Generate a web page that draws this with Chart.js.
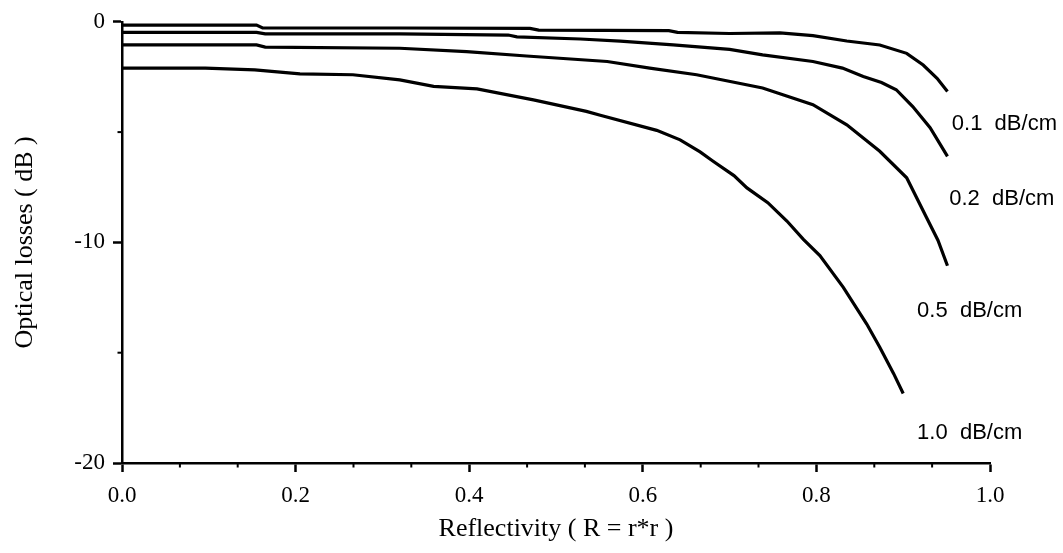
<!DOCTYPE html>
<html>
<head>
<meta charset="utf-8">
<script src="https://cdn.jsdelivr.net/npm/chart.js@4"></script>
<style>
  body { margin: 0; background: #fff; }
</style>
</head>
<body>
<canvas id="chart" width="1063" height="553"></canvas>
<script>
// reflectivity (x) and optical losses in dB (y) for each propagation loss
const r01 = [0, 0.155, 0.162, 0.32, 0.47, 0.48, 0.63, 0.64, 0.70, 0.758, 0.796, 0.835, 0.873, 0.904, 0.923, 0.939, 0.951];
const loss01 = [-0.15, -0.15, -0.28, -0.28, -0.3, -0.38, -0.4, -0.48, -0.53, -0.5, -0.63, -0.87, -1.05, -1.43, -1.96, -2.56, -3.16];

const r02 = [0, 0.155, 0.165, 0.32, 0.445, 0.455, 0.528, 0.574, 0.635, 0.70, 0.738, 0.796, 0.83, 0.854, 0.875, 0.892, 0.911, 0.931, 0.951];
const loss02 = [-0.48, -0.48, -0.55, -0.55, -0.6, -0.68, -0.78, -0.88, -1.05, -1.25, -1.5, -1.8, -2.1, -2.48, -2.75, -3.08, -3.84, -4.8, -6.1];

const r05 = [0, 0.155, 0.165, 0.32, 0.397, 0.466, 0.559, 0.608, 0.662, 0.738, 0.796, 0.835, 0.873, 0.904, 0.927, 0.94, 0.951];
const loss05 = [-1.05, -1.05, -1.15, -1.2, -1.35, -1.55, -1.8, -2.1, -2.4, -3.0, -3.76, -4.67, -5.87, -7.07, -8.88, -9.9, -11.06];

const r10 = [0, 0.096, 0.153, 0.205, 0.266, 0.32, 0.359, 0.409, 0.474, 0.535, 0.551, 0.616, 0.643, 0.666, 0.681, 0.705, 0.72, 0.744, 0.766, 0.785, 0.804, 0.831, 0.858, 0.873, 0.889, 0.90];
const loss10 = [-2.1, -2.1, -2.18, -2.36, -2.4, -2.63, -2.93, -3.04, -3.54, -4.06, -4.24, -4.92, -5.35, -5.9, -6.32, -6.97, -7.53, -8.2, -9.03, -9.86, -10.6, -12.04, -13.7, -14.75, -15.95, -16.85];

// curve labels, placed in data units
const curveLabels = ['0.1  dB/cm', '0.2  dB/cm', '0.5  dB/cm', '1.0  dB/cm'];
const labelR = [0.956, 0.953, 0.916, 0.916];
const labelLoss = [-4.65, -8.04, -13.09, -18.65];

// minor tick marks
const xMinor = [0.0667, 0.1333, 0.2667, 0.3333, 0.4667, 0.5333, 0.6667, 0.7333, 0.8667, 0.9333];
const yMinor = [-5, -15];

const toPts = (xs, ys) => xs.map((x, i) => ({ x: x, y: ys[i] }));

const line = (pts) => ({
    data: pts,
    borderColor: '#000',
    borderWidth: 3.2,
    pointRadius: 0,
    tension: 0,
    fill: false
});

// draws minor ticks and the dB/cm labels
const extras = {
    id: 'extras',
    afterDraw(chart) {
        const { ctx, scales: { x, y } } = chart;
        ctx.save();
        ctx.strokeStyle = '#000';
        ctx.lineWidth = 2;
        xMinor.forEach(v => {
            const px = x.getPixelForValue(v);
            ctx.beginPath();
            ctx.moveTo(px, y.bottom);
            ctx.lineTo(px, y.bottom + 4.5);
            ctx.stroke();
        });
        yMinor.forEach(v => {
            const py = y.getPixelForValue(v);
            ctx.beginPath();
            ctx.moveTo(x.left, py);
            ctx.lineTo(x.left - 4.5, py);
            ctx.stroke();
        });
        ctx.fillStyle = '#000';
        ctx.font = '22px "Liberation Sans", Arial, sans-serif';
        ctx.textAlign = 'left';
        ctx.textBaseline = 'middle';
        curveLabels.forEach((t, i) => {
            ctx.fillText(t, x.getPixelForValue(labelR[i]), y.getPixelForValue(labelLoss[i]));
        });
        ctx.restore();
    }
};

const tickFont = { family: '"Liberation Serif", "Times New Roman", serif', size: 23 };
const titleFont = { family: '"Liberation Serif", "Times New Roman", serif', size: 26 };

new Chart(document.getElementById('chart').getContext('2d'), {
    type: 'line',
    data: {
        datasets: [
            line(toPts(r01, loss01)),
            line(toPts(r02, loss02)),
            line(toPts(r05, loss05)),
            line(toPts(r10, loss10))
        ]
    },
    options: {
        responsive: false,
        animation: false,
        layout: { padding: { left: 0, top: 20, right: 73, bottom: 0 } },
        plugins: {
            legend: { display: false },
            tooltip: { enabled: false }
        },
        scales: {
            x: {
                type: 'linear',
                min: 0,
                max: 1,
                afterFit: s => { s.height = 90; },
                border: { display: true, color: '#000', width: 2.5 },
                grid: { drawOnChartArea: false, drawTicks: true, tickLength: 9, tickWidth: 2.5, color: '#000' },
                ticks: {
                    stepSize: 0.2,
                    color: '#000',
                    font: tickFont,
                    padding: 10,
                    maxRotation: 0,
                    callback: v => v.toFixed(1)
                },
                title: {
                    display: true,
                    text: 'Reflectivity ( R = r*r )',
                    color: '#000',
                    font: titleFont,
                    padding: { top: 0, bottom: 8 }
                }
            },
            y: {
                type: 'linear',
                min: -20,
                max: 0,
                afterFit: s => { s.width = 122; },
                border: { display: true, color: '#000', width: 2.5 },
                grid: { drawOnChartArea: false, drawTicks: true, tickLength: 9, tickWidth: 2.5, color: '#000' },
                ticks: {
                    stepSize: 10,
                    color: '#000',
                    font: tickFont,
                    padding: 8
                },
                title: {
                    display: true,
                    text: 'Optical losses ( dB )',
                    color: '#000',
                    font: titleFont,
                    padding: { top: 10, bottom: 0 }
                }
            }
        }
    },
    plugins: [extras]
});
</script>
</body>
</html>
